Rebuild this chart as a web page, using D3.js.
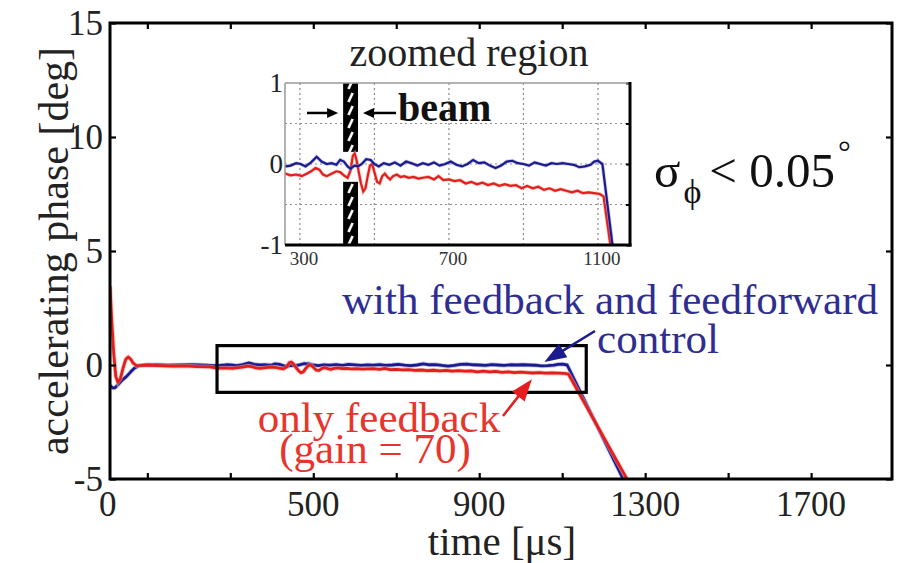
<!DOCTYPE html>
<html><head><meta charset="utf-8">
<script src="https://cdn.jsdelivr.net/npm/d3@7"></script>
<style>body{margin:0;background:#fff}svg{display:block}text{font-family:"Liberation Serif","Times New Roman",serif}</style>
</head><body><svg id="c" width="899" height="563"></svg>
<script>
// ---------- data ----------
const xTickVals = [100,300,500,700,900,1100,1300,1500,1700];
const xLabelVals = [0,500,900,1300,1700];
const yTickVals = [-5,0,5,10,15];
const insetXTicks = [300,500,700,900,1100];
const insetXLabels = [300,700,1100];
const insetYTicks = [-1,-0.5,0,0.5,1];
const insetYLabels = [-1,0,1];
const beamRange = [416,456];        // μs
const beamGap = [0.15,-0.22];       // deg, opening of the hatched bar
const zoomBoxT = [268,1158];        // μs
const zoomBoxV = [-1.2,0.85];       // deg

// with feedback and feedforward control (blue) : [time μs, phase deg]
const blueT = [10,16,22,30,40,50,60,70,80,95,120,150,180,210,240,262,275,290,302,315,330,345,358,372,385,398,408,418,428,436,446,456,466,478,490,500,512,525,540,555,570,585,600,615,630,645,660,675,690,705,720,735,750,765,780,795,810,825,840,855,870,885,900,915,930,945,960,975,990,1005,1020,1035,1050,1065,1080,1090,1100,1112,1247,1262];
const blueV = [-0.9,-1.0,-1.0,-0.85,-0.65,-0.5,-0.3,-0.12,-0.03,0.0,0.01,-0.01,0.0,0.01,-0.01,-0.03,-0.02,0.01,0.0,-0.03,0.02,0.09,0.03,0.0,0.01,-0.01,0.05,0.03,-0.03,-0.06,-0.02,-0.03,0.0,0.06,0.05,0.0,-0.03,0.01,-0.01,0.02,-0.02,0.03,0.01,-0.02,0.01,-0.01,0.02,-0.02,0.0,0.03,-0.01,-0.03,0.0,0.05,0.01,0.02,-0.02,-0.05,-0.02,0.03,0.04,0.01,0.0,-0.02,0.02,0.0,-0.02,0.01,0.0,0.01,0.0,-0.01,-0.04,-0.03,-0.01,0.03,0.04,0.0,-5.0,-5.6];
// only feedback, gain = 70 (red)
const redT = [10,14,19,24,29,35,42,48,54,60,66,74,85,100,130,160,190,220,250,262,275,290,305,318,330,342,352,362,372,385,398,408,418,428,436,442,447,452,458,464,470,476,482,488,494,500,507,514,521,528,535,542,550,560,570,580,592,605,618,630,645,660,672,685,700,715,730,745,760,775,790,805,820,835,850,865,880,895,910,925,940,955,970,985,1000,1015,1030,1045,1060,1075,1090,1105,1115,1256,1272];
const redV = [3.46,2.0,0.5,-0.5,-0.76,-0.6,-0.1,0.25,0.35,0.25,0.08,-0.03,-0.02,0.0,-0.03,-0.05,-0.04,-0.07,-0.08,-0.12,-0.14,-0.13,-0.15,-0.12,-0.09,-0.05,-0.07,-0.13,-0.15,-0.12,-0.09,-0.1,-0.14,-0.17,-0.08,0.1,0.13,0.05,-0.1,-0.24,-0.34,-0.3,-0.15,-0.02,0.0,-0.1,-0.22,-0.24,-0.15,-0.12,-0.16,-0.19,-0.15,-0.13,-0.16,-0.15,-0.17,-0.16,-0.18,-0.17,-0.16,-0.19,-0.15,-0.2,-0.19,-0.21,-0.2,-0.24,-0.22,-0.25,-0.23,-0.26,-0.24,-0.27,-0.25,-0.27,-0.26,-0.3,-0.27,-0.3,-0.28,-0.32,-0.3,-0.33,-0.31,-0.33,-0.35,-0.33,-0.36,-0.35,-0.36,-0.37,-0.4,-5.0,-5.6];

// annotation arrow tips (data units)
const blueArrowTip = [1057,0.13];
const redArrowTip = [1027,-0.62];

// ---------- drawing ----------
const BLUE = "#1b1b8f", RED = "#e31e1e", BLUE_TXT = "#2e2e92", RED_TXT = "#e8352c";
const svg = d3.select("#c");
const M = {l:110, r:892, t:23, b:479};
const x = d3.scaleLinear().domain([10,1895]).range([M.l, M.r]);
const y = d3.scaleLinear().domain([-5,15]).range([M.b, M.t]);

const blue = blueT.map((t,i)=>[t,blueV[i]]);
const red = redT.map((t,i)=>[t,redV[i]]);

const defs = svg.append("defs");
defs.append("clipPath").attr("id","mainClip").append("rect")
  .attr("x",M.l).attr("y",M.t).attr("width",M.r-M.l).attr("height",M.b-M.t);

// main traces
const line = d3.line().x(d=>x(d[0])).y(d=>y(d[1]));
const gL = svg.append("g").attr("clip-path","url(#mainClip)");
gL.append("path").datum(blue).attr("d",line).attr("fill","none").attr("stroke","#8f8fd0").attr("stroke-width",4.5).attr("opacity",0.5);
gL.append("path").datum(blue).attr("d",line).attr("fill","none").attr("stroke",BLUE).attr("stroke-width",2.8).attr("stroke-linejoin","round");
gL.append("path").datum(red).attr("d",line).attr("fill","none").attr("stroke","#f4a08c").attr("stroke-width",4.5).attr("opacity",0.6);
gL.append("path").datum(red).attr("d",line).attr("fill","none").attr("stroke",RED).attr("stroke-width",2.8).attr("stroke-linejoin","round");

// zoom box
svg.append("rect").attr("x",x(zoomBoxT[0])).attr("y",y(zoomBoxV[1]))
  .attr("width",x(zoomBoxT[1])-x(zoomBoxT[0])).attr("height",y(zoomBoxV[0])-y(zoomBoxV[1]))
  .attr("fill","none").attr("stroke","#000").attr("stroke-width",3.2);

// main frame + ticks (inward on all sides)
const tk = 6;
const bAx = svg.append("g").attr("transform",`translate(0,${M.b})`).call(d3.axisBottom(x).tickValues(xTickVals).tickSize(-tk).tickFormat(""));
const tAx = svg.append("g").attr("transform",`translate(0,${M.t})`).call(d3.axisTop(x).tickValues(xTickVals).tickSize(-tk).tickFormat(""));
const lAx = svg.append("g").attr("transform",`translate(${M.l},0)`).call(d3.axisLeft(y).tickValues(yTickVals).tickSize(-tk).tickFormat(""));
const rAx = svg.append("g").attr("transform",`translate(${M.r},0)`).call(d3.axisRight(y).tickValues(yTickVals).tickSize(-tk).tickFormat(""));
[bAx,tAx,lAx,rAx].forEach(g=>{g.select(".domain").remove(); g.selectAll(".tick line").attr("stroke","#000").attr("stroke-width",2.2);});
svg.append("rect").attr("x",M.l).attr("y",M.t).attr("width",M.r-M.l).attr("height",M.b-M.t)
  .attr("fill","none").attr("stroke","#000").attr("stroke-width",3);

// tick labels
svg.append("g").selectAll("text").data(xLabelVals).join("text")
  .attr("x",d=>x(d)+(d===0?2:0)).attr("y",516).attr("text-anchor","middle")
  .attr("font-size",35).attr("fill","#222").text(d=>d);
svg.append("g").selectAll("text").data(yTickVals).join("text")
  .attr("x",103).attr("y",d=>y(d)).attr("dy","0.35em").attr("text-anchor","end")
  .attr("font-size",35).attr("fill","#222").text(d=>d);

// axis titles
svg.append("text").attr("x",502).attr("y",555).attr("text-anchor","middle").attr("font-size",41).attr("fill","#222").text("time [μs]");
svg.append("text").attr("transform","translate(68,251) rotate(-90)").attr("text-anchor","middle").attr("font-size",42).attr("fill","#222").text("accelerating phase [deg]");

// annotations
svg.append("text").attr("x",610).attr("y",314).attr("text-anchor","middle").attr("font-size",43).attr("fill",BLUE_TXT).text("with feedback and feedforward");
svg.append("text").attr("x",658).attr("y",353).attr("text-anchor","middle").attr("font-size",43).attr("fill",BLUE_TXT).text("control");
svg.append("text").attr("x",379).attr("y",432).attr("text-anchor","middle").attr("font-size",43).attr("fill",RED_TXT).text("only feedback");
svg.append("text").attr("x",375).attr("y",463).attr("text-anchor","middle").attr("font-size",43).attr("fill",RED_TXT).text("(gain = 70)");

function arrow(x1,y1,x2,y2,color,hl,hw,sw){
  const a = Math.atan2(y2-y1,x2-x1), c=Math.cos(a), s=Math.sin(a);
  const bx = x2-hl*c, by = y2-hl*s;
  svg.append("line").attr("x1",x1).attr("y1",y1).attr("x2",bx+2*c).attr("y2",by+2*s).attr("stroke",color).attr("stroke-width",sw);
  svg.append("path").attr("d",`M${x2},${y2}L${bx - hw/2*s},${by + hw/2*c}L${bx + hw/2*s},${by - hw/2*c}Z`).attr("fill",color);
}
arrow(595,331,x(blueArrowTip[0]),y(blueArrowTip[1]),BLUE,22,16,2.5);
arrow(503,416,x(redArrowTip[0]),y(redArrowTip[1]),RED,22,16,2.5);

// sigma
const st = svg.append("text").attr("x",654).attr("y",187).attr("font-size",49).attr("fill","#111");
st.append("tspan").text("σ");
st.append("tspan").attr("font-size",34).attr("dy",16).attr("dx",3).text("ϕ");
st.append("tspan").attr("dy",-16).attr("dx",8).text("< 0.05");
st.append("tspan").attr("font-size",32).attr("dy",-24).attr("dx",3).text("°");

// ---------- inset ----------
const I = {l:285, r:630, t:83, b:245};
const xi = d3.scaleLinear().domain([260,1186]).range([I.l,I.r]);
const yi = d3.scaleLinear().domain([-1,1]).range([I.b,I.t]);
defs.append("clipPath").attr("id","inClip").append("rect")
  .attr("x",I.l).attr("y",I.t).attr("width",I.r-I.l).attr("height",I.b-I.t);
svg.append("rect").attr("x",I.l).attr("y",I.t).attr("width",I.r-I.l).attr("height",I.b-I.t).attr("fill","#fff");
// grid
svg.append("g").selectAll("line").data(insetXTicks).join("line")
  .attr("x1",d=>xi(d)).attr("x2",d=>xi(d)).attr("y1",I.t).attr("y2",I.b)
  .attr("stroke","#8a8a8a").attr("stroke-width",1.2).attr("stroke-dasharray","2,3");
svg.append("g").selectAll("line").data(insetYTicks.filter(v=>v>-1&&v<1)).join("line")
  .attr("x1",I.l).attr("x2",I.r).attr("y1",d=>yi(d)).attr("y2",d=>yi(d))
  .attr("stroke","#8a8a8a").attr("stroke-width",1.2).attr("stroke-dasharray","2,3");
// right-side ticks
svg.append("g").attr("transform",`translate(${I.r},0)`).call(d3.axisRight(yi).tickValues(insetYTicks).tickSize(-4).tickFormat(""))
  .call(g=>{g.select(".domain").remove(); g.selectAll(".tick line").attr("stroke","#000").attr("stroke-width",2);});

// beam hatch
const bw = xi(beamRange[1])-xi(beamRange[0]);
const pat = defs.append("pattern").attr("id","hatch").attr("patternUnits","userSpaceOnUse")
  .attr("x",xi(beamRange[0])).attr("y",0).attr("width",bw).attr("height",13);
pat.append("rect").attr("width",bw).attr("height",13).attr("fill","#000");
pat.append("line").attr("x1",bw*0.36).attr("y1",11).attr("x2",bw*0.64).attr("y2",2).attr("stroke","#fff").attr("stroke-width",2.6);
[[1,beamGap[0]],[beamGap[1],-1]].forEach(([v1,v2])=>{
  svg.append("rect").attr("x",xi(beamRange[0])).attr("y",yi(v1)).attr("width",bw).attr("height",yi(v2)-yi(v1)).attr("fill","url(#hatch)");
});

// inset traces
const linei = d3.line().x(d=>xi(d[0])).y(d=>yi(d[1]));
const gi = svg.append("g").attr("clip-path","url(#inClip)");
gi.append("path").datum(red).attr("d",linei).attr("fill","none").attr("stroke","#f4a08c").attr("stroke-width",3.6).attr("opacity",0.6);
gi.append("path").datum(red).attr("d",linei).attr("fill","none").attr("stroke",RED).attr("stroke-width",2.2);
gi.append("path").datum(blue).attr("d",linei).attr("fill","none").attr("stroke","#8f8fd0").attr("stroke-width",3.6).attr("opacity",0.5);
gi.append("path").datum(blue).attr("d",linei).attr("fill","none").attr("stroke",BLUE).attr("stroke-width",2.2);

// inset frame: thin gray top/left, thick black right/bottom
svg.append("line").attr("x1",I.l).attr("x2",I.r).attr("y1",I.t).attr("y2",I.t).attr("stroke","#999").attr("stroke-width",1.5);
svg.append("line").attr("x1",I.l).attr("x2",I.l).attr("y1",I.t).attr("y2",I.b).attr("stroke","#999").attr("stroke-width",1.5);
svg.append("line").attr("x1",I.r).attr("x2",I.r).attr("y1",I.t-1).attr("y2",I.b+1.5).attr("stroke","#000").attr("stroke-width",3);
svg.append("line").attr("x1",I.l).attr("x2",I.r+1.5).attr("y1",I.b).attr("y2",I.b).attr("stroke","#000").attr("stroke-width",3);

// inset labels
svg.append("g").selectAll("text").data(insetXLabels).join("text")
  .attr("x",d=>xi(d)+4).attr("y",265).attr("text-anchor","middle").attr("font-size",19).attr("fill","#333").text(d=>d);
svg.append("g").selectAll("text").data(insetYLabels).join("text")
  .attr("x",283).attr("y",d=>yi(d)).attr("dy","0.35em").attr("text-anchor","end").attr("font-size",27).attr("fill","#222").text(d=>d);
svg.append("text").attr("x",469).attr("y",66).attr("text-anchor","middle").attr("font-size",40).attr("fill","#222").text("zoomed region");

// beam arrows & label
const beamY = yi(0.63);
arrow(307,beamY,xi(beamRange[0])-5,beamY,"#000",11,10,2.5);
arrow(396,beamY,xi(beamRange[1])+5,beamY,"#000",11,10,2.5);
svg.append("text").attr("x",398).attr("y",121).attr("font-size",40).attr("font-weight","bold").attr("fill","#111").text("beam");
</script></body></html>
